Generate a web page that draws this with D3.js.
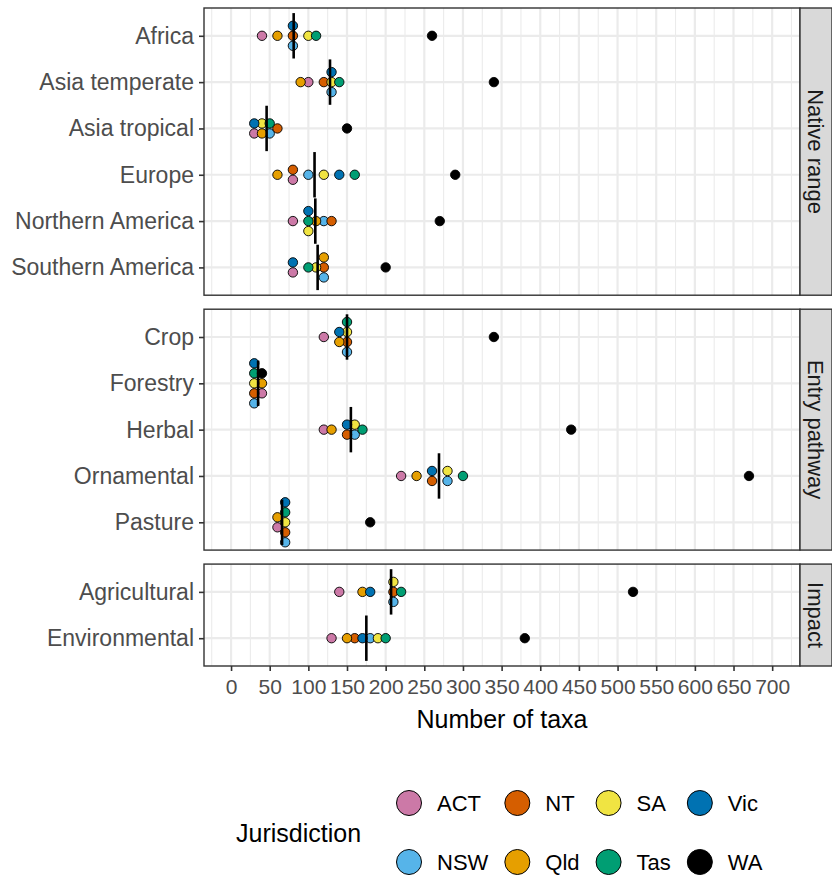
<!DOCTYPE html>
<html>
<head>
<meta charset="utf-8">
<script src="https://cdn.jsdelivr.net/npm/d3@7"></script>
<style>
  body { margin: 0; background: #fff; }
  svg { display: block; font-family: "Liberation Sans", Arial, sans-serif; }
</style>
</head>
<body>
<svg id="chart" width="832" height="877"></svg>
<script>
// ---------- data ----------
var nativeCats = ["Africa", "Asia temperate", "Asia tropical", "Europe", "Northern America", "Southern America"];
var entryCats = ["Crop", "Forestry", "Herbal", "Ornamental", "Pasture"];
var impactCats = ["Agricultural", "Environmental"];
var facetNames = ["Native range", "Entry pathway", "Impact"];

var jurisdictions = ["ACT", "NSW", "NT", "Qld", "SA", "Tas", "Vic", "WA"];
var jurColors = ["#CC79A7", "#56B4E9", "#D55E00", "#E69F00", "#F0E442", "#009E73", "#0072B2", "#000000"];

// values in category order: native (6), entry (5), impact (2)
var valACT = [40, 100, 30, 80, 80, 80, 120, 40, 120, 220, 60, 140, 130];
var valNSW = [80, 130, 50, 100, 120, 120, 150, 30, 160, 280, 70, 210, 180];
var valNT  = [80, 120, 60, 80, 130, 120, 150, 30, 150, 260, 70, 210, 160];
var valQld = [60, 90, 40, 60, 110, 120, 140, 40, 130, 240, 60, 170, 150];
var valSA  = [100, 130, 40, 120, 100, 110, 150, 30, 160, 280, 70, 210, 190];
var valTas = [110, 140, 50, 160, 100, 100, 150, 30, 170, 300, 70, 220, 200];
var valVic = [80, 130, 30, 140, 100, 80, 140, 30, 150, 260, 70, 180, 170];
var valWA  = [260, 340, 150, 290, 270, 200, 340, 40, 440, 670, 180, 520, 380];

// black summary bar per category
var lineValues = [81, 128, 46, 108, 109, 112, 150, 35, 155, 269, 66, 207, 175];

var xTicks = [0, 50, 100, 150, 200, 250, 300, 350, 400, 450, 500, 550, 600, 650, 700];

// ---------- layout ----------
var panelLeft = 204, panelRight = 800, stripW = 32;
var plotTop = 8, plotBottom = 666, panelGap = 14;
var pad = 0.6;
var facetCats = [nativeCats, entryCats, impactCats];
var nRows = d3.sum(facetCats, c => c.length);
var step = (plotBottom - plotTop - panelGap * (facetCats.length - 1)) / (nRows + facetCats.length * (2 * pad - 1));
var dotR = 4.7, dotGap = 10;

var allVals = [valACT, valNSW, valNT, valQld, valSA, valTas, valVic, valWA];

var x = d3.scaleLinear().domain([-35, 736]).range([panelLeft, panelRight]);
var minorTicks = d3.range(-25, 736, 50);

var svg = d3.select("#chart");

var panelY = plotTop;
var catIndex = 0;
facetCats.forEach(function (cats, fi) {
    var h = (cats.length - 1 + 2 * pad) * step;
    var top = panelY, bottom = panelY + h;
    var y = d3.scalePoint().domain(cats).range([top, bottom]).padding(pad);
    var g = svg.append("g");

    g.append("rect").attr("x", panelLeft).attr("y", top).attr("width", panelRight - panelLeft).attr("height", h).attr("fill", "#fff");

    // grid
    g.selectAll(".minor").data(minorTicks).enter().append("line")
        .attr("x1", d => x(d)).attr("x2", d => x(d)).attr("y1", top).attr("y2", bottom)
        .attr("stroke", "#EBEBEB").attr("stroke-width", 1.1);
    g.selectAll(".major").data(xTicks).enter().append("line")
        .attr("x1", d => x(d)).attr("x2", d => x(d)).attr("y1", top).attr("y2", bottom)
        .attr("stroke", "#EBEBEB").attr("stroke-width", 2.2);
    g.selectAll(".hgrid").data(cats).enter().append("line")
        .attr("x1", panelLeft).attr("x2", panelRight).attr("y1", d => y(d)).attr("y2", d => y(d))
        .attr("stroke", "#EBEBEB").attr("stroke-width", 2.2);

    // points, stacked when values tie (alphabetical order bottom to top)
    var pts = [];
    cats.forEach(function (c, ci) {
        var k = catIndex + ci;
        var groups = d3.group(jurisdictions.map((j, ji) => ({ jur: j, ji: ji, cat: c, v: allVals[ji][k] })), d => d.v);
        groups.forEach(function (arr) {
            arr.forEach(function (d, i) {
                d.off = (i - (arr.length - 1) / 2) * dotGap;
                pts.push(d);
            });
        });
    });
    pts.sort((a, b) => a.ji - b.ji);
    g.selectAll(".pt").data(pts).enter().append("circle")
        .attr("cx", d => x(d.v)).attr("cy", d => y(d.cat) - d.off).attr("r", dotR)
        .attr("fill", d => jurColors[d.ji]).attr("stroke", "#000").attr("stroke-width", 0.9);

    // summary bars
    g.selectAll(".bar").data(cats).enter().append("line")
        .attr("x1", (d, i) => x(lineValues[catIndex + i])).attr("x2", (d, i) => x(lineValues[catIndex + i]))
        .attr("y1", d => y(d) - step * 0.49).attr("y2", d => y(d) + step * 0.49)
        .attr("stroke", "#000").attr("stroke-width", 2.6);

    // border
    g.append("rect").attr("x", panelLeft).attr("y", top).attr("width", panelRight - panelLeft).attr("height", h)
        .attr("fill", "none").attr("stroke", "#333333").attr("stroke-width", 1.4);

    // strip
    g.append("rect").attr("x", panelRight).attr("y", top).attr("width", stripW).attr("height", h)
        .attr("fill", "#D9D9D9").attr("stroke", "#333333").attr("stroke-width", 1.4);
    g.append("text")
        .attr("transform", "translate(" + (panelRight + stripW / 2) + "," + (top + h / 2) + ") rotate(90)")
        .attr("text-anchor", "middle").attr("dy", "0.35em")
        .style("font-size", "22px").style("fill", "#1A1A1A")
        .text(facetNames[fi]);

    // y axis
    var yAxis = d3.axisLeft(y).tickSize(5).tickPadding(5);
    svg.append("g")
        .attr("transform", "translate(" + panelLeft + ",0)")
        .call(yAxis)
        .call(a => a.select(".domain").remove())
        .call(a => a.selectAll(".tick line").attr("stroke", "#333333").attr("stroke-width", 1.6))
        .call(a => a.selectAll(".tick text").style("font-size", "23px").style("font-family", "Liberation Sans, Arial, sans-serif").attr("fill", "#4D4D4D"));

    if (fi === facetCats.length - 1) {
        var xAxis = d3.axisBottom(x).tickValues(xTicks).tickSize(5).tickPadding(8);
        svg.append("g")
            .attr("transform", "translate(0," + bottom + ")")
            .call(xAxis)
            .call(a => a.select(".domain").remove())
            .call(a => a.selectAll(".tick line").attr("stroke", "#333333").attr("stroke-width", 1.6))
            .call(a => a.selectAll(".tick text").style("font-size", "21px").style("font-family", "Liberation Sans, Arial, sans-serif").attr("fill", "#4D4D4D"));
    }

    catIndex += cats.length;
    panelY = bottom + panelGap;
});

// axis title
svg.append("text")
    .attr("x", (panelLeft + panelRight) / 2).attr("y", 728)
    .attr("text-anchor", "middle")
    .style("font-size", "25px").style("fill", "#000")
    .text("Number of taxa");

// ---------- legend ----------
var legTitleX = 236, legMidY = 833;
var legRowY = [803, 862];
var legStartX = 409, legR = 12.5, legTextOff = 28, legColGap = 29;

svg.append("text")
    .attr("x", legTitleX).attr("y", legMidY).attr("dy", "0.35em")
    .style("font-size", "25px").style("fill", "#000")
    .text("Jurisdiction");

var legG = svg.append("g");
var nCols = Math.ceil(jurisdictions.length / 2);
var colX = legStartX;
for (var c = 0; c < nCols; c++) {
    var maxW = 0;
    for (var r = 0; r < 2; r++) {
        var ji = c * 2 + r;
        if (ji >= jurisdictions.length) continue;
        legG.append("circle")
            .attr("cx", colX).attr("cy", legRowY[r]).attr("r", legR)
            .attr("fill", jurColors[ji]).attr("stroke", "#000").attr("stroke-width", 1);
        var t = legG.append("text")
            .attr("x", colX + legTextOff).attr("y", legRowY[r]).attr("dy", "0.35em")
            .style("font-size", "22px").style("fill", "#000")
            .text(jurisdictions[ji]);
        maxW = Math.max(maxW, t.node().getComputedTextLength());
    }
    colX += legTextOff + maxW + legColGap;
}
</script>
</body>
</html>
